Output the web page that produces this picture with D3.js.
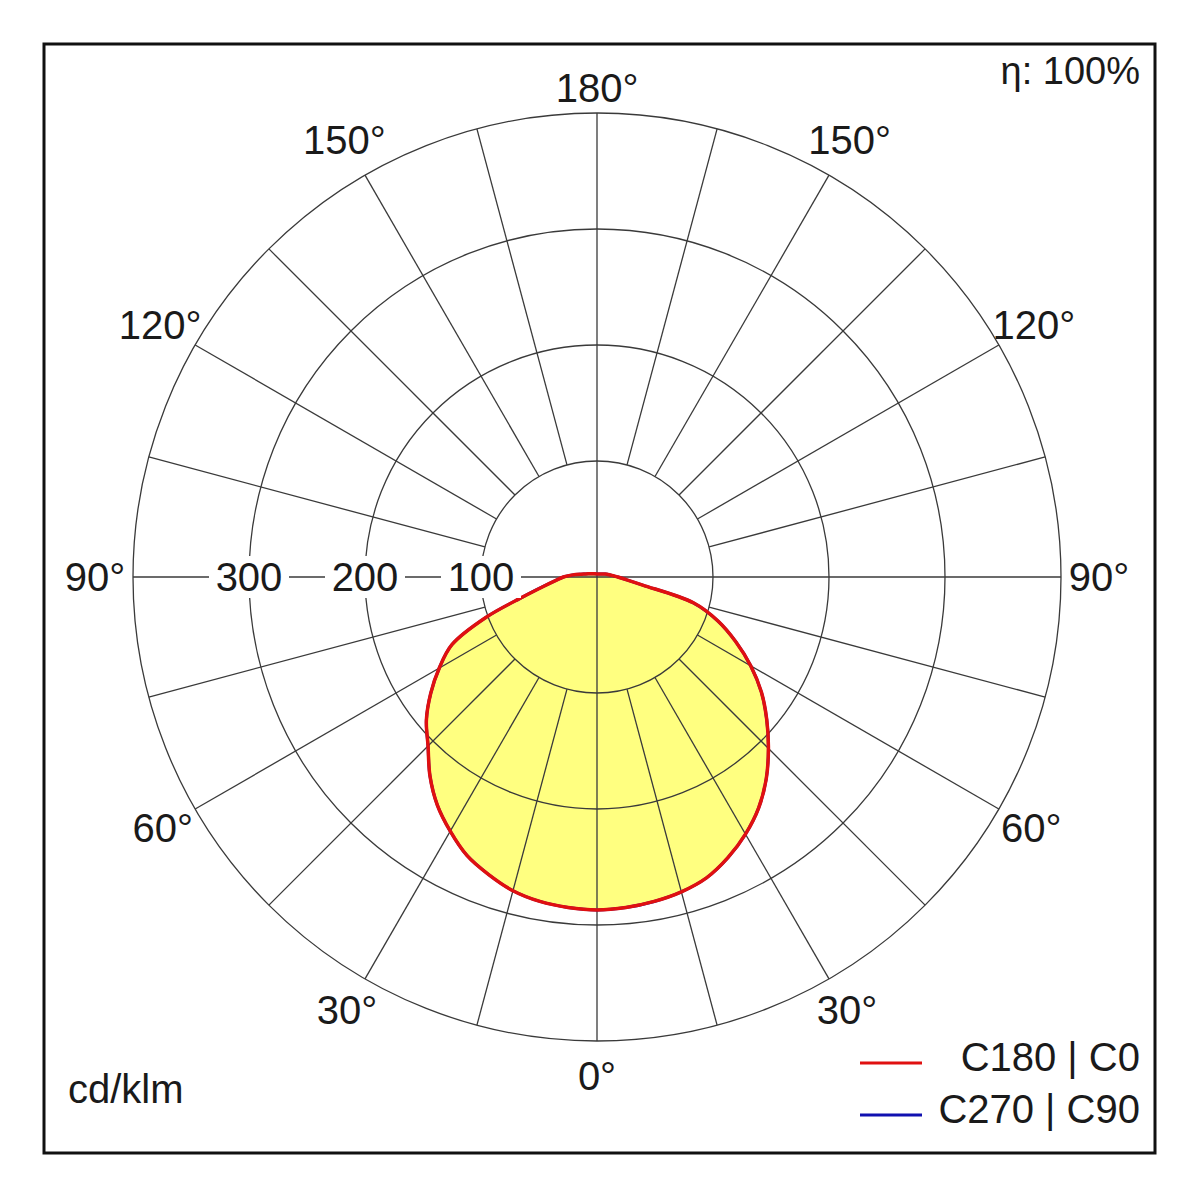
<!DOCTYPE html>
<html>
<head>
<meta charset="utf-8">
<script src="https://cdn.jsdelivr.net/npm/d3@7"></script>
<style>
  body { margin: 0; background: #fff; }
  text { font-family: "Liberation Sans", Arial, sans-serif; fill: #1a1a1a; }
</style>
</head>
<body>
<svg id="chart" width="1200" height="1200"></svg>
<script>
// luminous intensity in cd/klm, gamma angle 0 = straight down, 180 = straight up
const gamma = [0, 5, 10, 15, 20, 25, 30, 35, 40, 45, 50, 55, 60, 65, 70, 75, 80, 85, 90,
  95, 100, 105, 110, 115, 120, 125, 130, 135, 140, 145, 150, 155, 160, 165, 170, 175, 180];
// C0 plane (right half)
const c0 = [287, 286, 284, 281, 276, 267, 256, 243, 227, 209, 191, 173, 153, 132, 111, 86, 40, 25, 18,
  14, 11, 9, 7.5, 6.3, 5.3, 4.6, 4.1, 3.7, 3.4, 3.2, 3.0, 2.9, 2.8, 2.7, 2.6, 2.6, 2.6];
// C180 plane (left half)
const c180 = [287, 286, 284, 280, 273, 265, 253, 240, 224, 206, 192, 175, 157, 138, 102, 66, 47, 36, 29,
  21, 14, 10, 8, 6.8, 5.8, 5, 4.5, 4, 3.6, 3.3, 3.1, 3.0, 2.9, 2.8, 2.7, 2.6, 2.6];
// C90 / C270 coincide with C0 / C180 (the blue curve is hidden under the red one)
const c90 = c0;
const c270 = c180;

const ringValues = [100, 200, 300, 400];
const ringLabels = [100, 200, 300];
const spokeAngles = [15, 30, 45, 60, 75, 105, 120, 135, 150, 165];
const angleLabels = [0, 30, 60, 90, 120, 150, 180];
const legendNames = ["C180 | C0", "C270 | C90"];
const legendColors = ["#e01010", "#1010b0"];

const svg = d3.select("#chart");
const cx = 597, cy = 577;
const r = d3.scaleLinear().domain([0, 400]).range([0, 464]);
const toRad = d => d * Math.PI / 180;
const fs = 40;

// frame
svg.append("rect")
  .attr("x", 44).attr("y", 44).attr("width", 1111).attr("height", 1109)
  .attr("fill", "none").attr("stroke", "#111").attr("stroke-width", 3);

const g = svg.append("g").attr("transform", `translate(${cx},${cy})`);

// closed curve: right half from 180 down to 0, then left half from 5 up to 175
function curvePoints(right, left) {
  let pts = [];
  for (let i = gamma.length - 1; i >= 0; i--) {
    pts.push([Math.PI - toRad(gamma[i]), r(right[i])]);
  }
  for (let i = 1; i < gamma.length - 1; i++) {
    pts.push([Math.PI + toRad(gamma[i]), r(left[i])]);
  }
  return pts;
}

let radial = d3.lineRadial()
  .angle(d => d[0])
  .radius(d => d[1])
  .curve(d3.curveCatmullRomClosed.alpha(0.5));

// yellow fill sits under the grid
g.append("path")
  .attr("d", radial(curvePoints(c0, c180)))
  .attr("fill", "#ffff80")
  .attr("stroke", "none");

// grid
let grid = g.append("g").attr("stroke", "#3a3a3a").attr("stroke-width", 1.3).attr("fill", "none");
grid.selectAll("circle").data(ringValues).enter()
  .append("circle")
  .attr("r", d => r(d));

// spokes from the 100 ring outwards, right and left
[1, -1].forEach(s => {
  grid.selectAll("line.sp" + (s > 0 ? "R" : "L")).data(spokeAngles).enter()
    .append("line")
    .attr("class", "sp" + (s > 0 ? "R" : "L"))
    .attr("x1", d => s * r(100) * Math.sin(toRad(d))).attr("y1", d => r(100) * Math.cos(toRad(d)))
    .attr("x2", d => s * r(400) * Math.sin(toRad(d))).attr("y2", d => r(400) * Math.cos(toRad(d)));
});

// main axes
grid.append("line").attr("x1", 0).attr("y1", -r(400)).attr("x2", 0).attr("y2", r(400));
grid.append("line").attr("x1", -r(400)).attr("y1", 0).attr("x2", r(400)).attr("y2", 0);

// curves: blue first, red on top
g.append("path")
  .attr("d", radial(curvePoints(c90, c270)))
  .attr("fill", "none").attr("stroke", legendColors[1]).attr("stroke-width", 3);
g.append("path")
  .attr("d", radial(curvePoints(c0, c180)))
  .attr("fill", "none").attr("stroke", legendColors[0]).attr("stroke-width", 3.5)
  .attr("stroke-linejoin", "round");

// ring value labels on the left horizontal axis
let ringG = g.selectAll("g.ring").data(ringLabels).enter()
  .append("g").attr("class", "ring")
  .attr("transform", d => `translate(${-r(d)},0)`);
ringG.append("rect")
  .attr("x", -40).attr("y", -21).attr("width", 80).attr("height", 42)
  .attr("fill", "#fff");
ringG.append("text")
  .attr("text-anchor", "middle").attr("dy", "0.36em")
  .attr("font-size", fs)
  .text(d => d);

// angle labels on both sides, a little outside the outer ring
function labelGap(a) {
  if (a === 180) return 25;
  if (a === 0) return 35;
  return 34 + 4 * Math.sin(toRad(a)) + 6 * Math.max(0, -Math.cos(toRad(a)));
}
let sides = [];
angleLabels.forEach(a => {
  sides.push({ a: a, s: 1 });
  if (a !== 0 && a !== 180) sides.push({ a: a, s: -1 });
});
g.selectAll("text.ang").data(sides).enter()
  .append("text")
  .attr("class", "ang")
  .attr("text-anchor", "middle").attr("dy", "0.36em")
  .attr("font-size", fs)
  .attr("x", d => d.s * (r(400) + labelGap(d.a)) * Math.sin(toRad(d.a)))
  .attr("y", d => (r(400) + labelGap(d.a)) * Math.cos(toRad(d.a)))
  .text(d => d.a + "°");

// corner texts
svg.append("text").attr("x", 1140).attr("y", 84).attr("text-anchor", "end")
  .attr("font-size", 38).text("η: 100%");
svg.append("text").attr("x", 68).attr("y", 1103)
  .attr("font-size", fs).text("cd/klm");

// legend
let leg = svg.selectAll("g.leg").data(legendNames).enter()
  .append("g").attr("class", "leg")
  .attr("transform", (d, i) => `translate(0,${1057 + i * 52})`);
leg.append("line")
  .attr("x1", 860).attr("x2", 922).attr("y1", 6).attr("y2", 6)
  .attr("stroke", (d, i) => legendColors[i]).attr("stroke-width", 3);
leg.append("text")
  .attr("x", 1140).attr("text-anchor", "end").attr("dy", "0.36em")
  .attr("font-size", fs)
  .text(d => d);
</script>
</body>
</html>
